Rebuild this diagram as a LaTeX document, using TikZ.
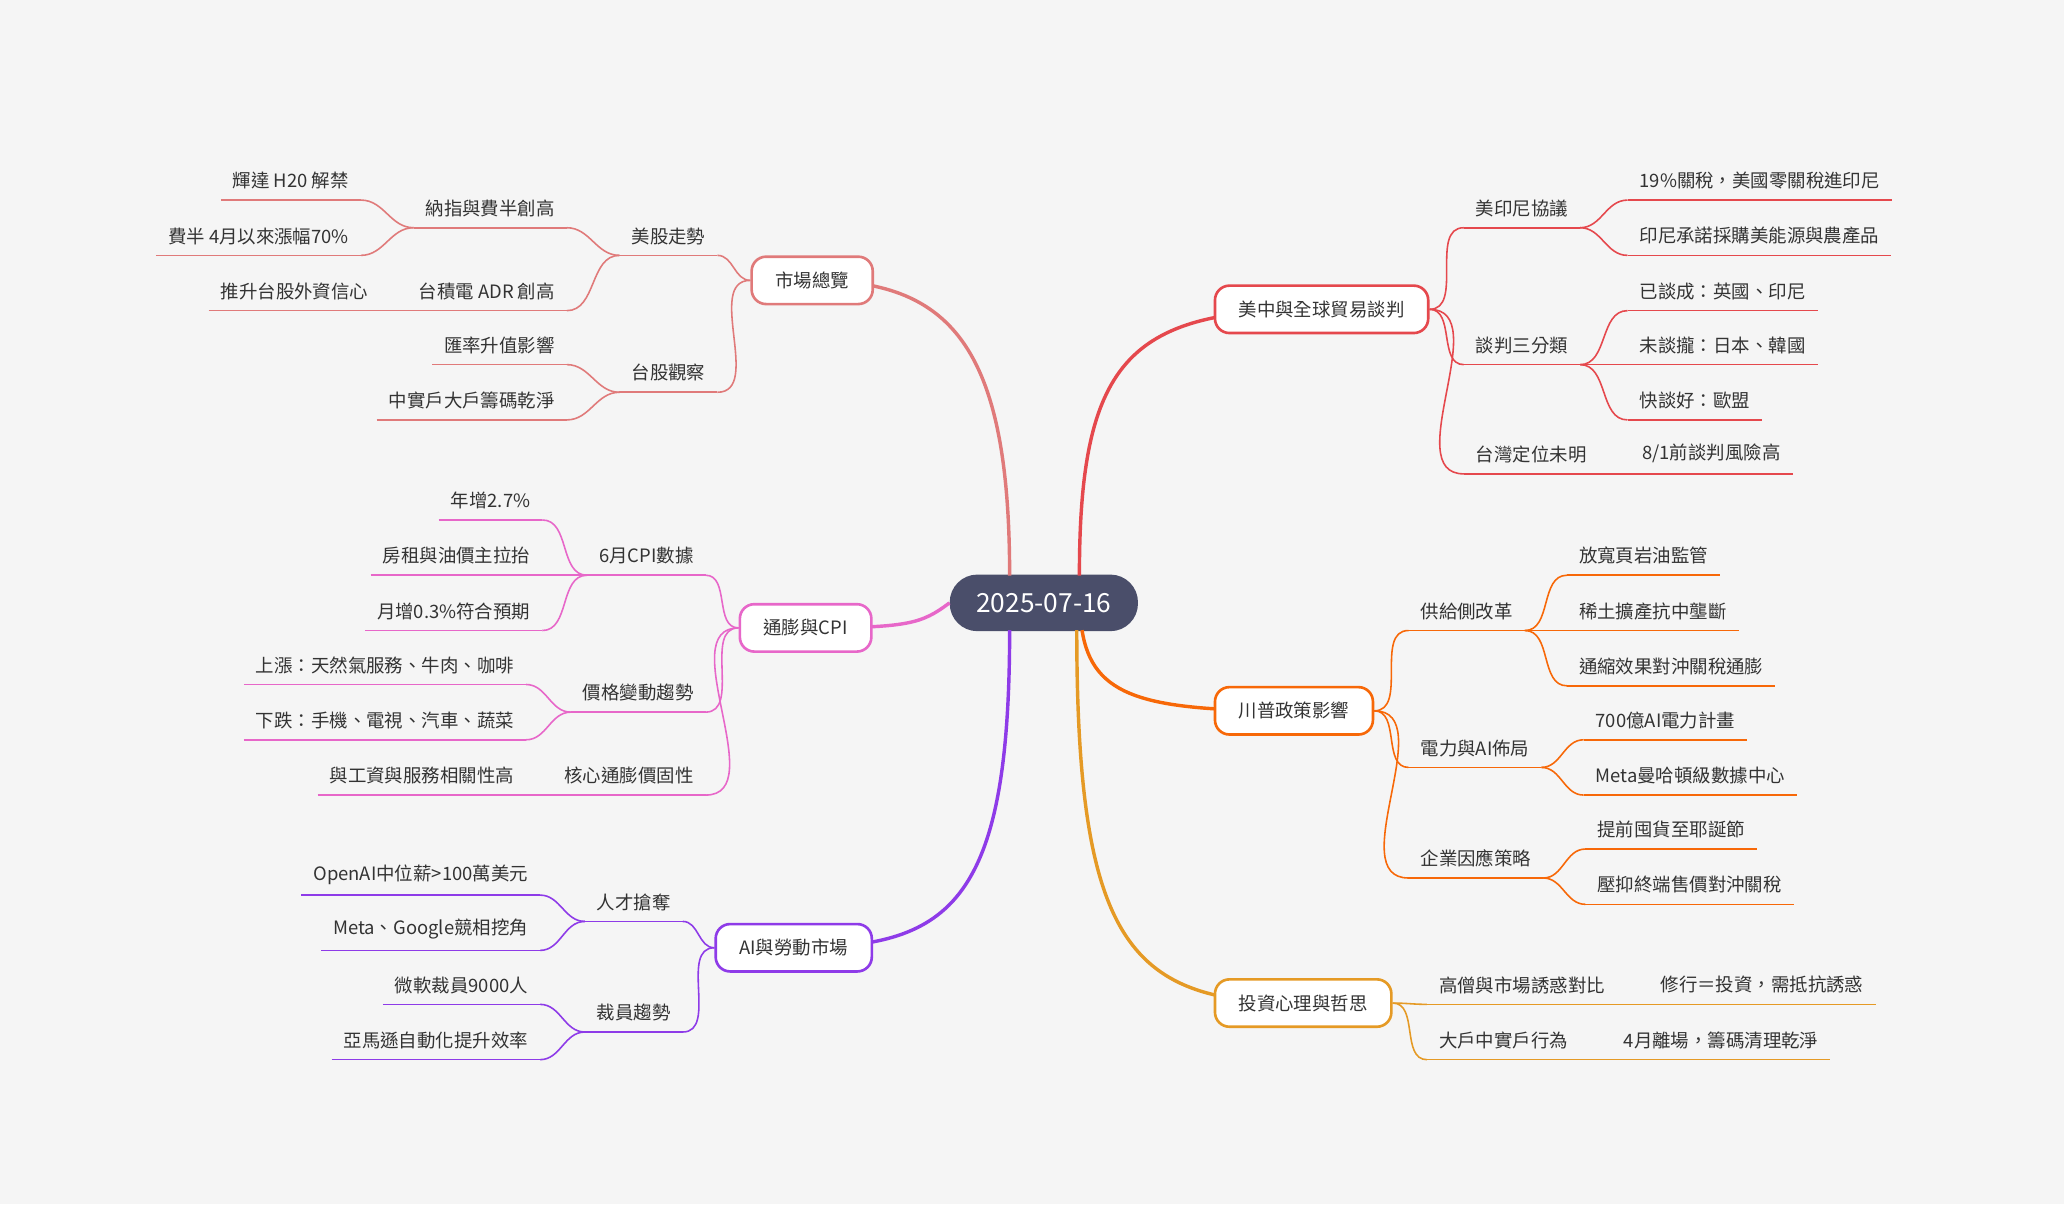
\documentclass[tikz,border=0pt]{standalone}
\usepackage{fontspec}
\setmainfont{Noto Sans CJK TC}
\usetikzlibrary{calc}
\definecolor{bg}{HTML}{F5F5F5}
\definecolor{txc}{HTML}{333333}
\definecolor{cA}{HTML}{E07A7A}
\definecolor{cB}{HTML}{E5484D}
\definecolor{cC}{HTML}{E767C9}
\definecolor{cD}{HTML}{F76808}
\definecolor{cE}{HTML}{8E3BE8}
\definecolor{cF}{HTML}{E59A25}
\definecolor{rootc}{HTML}{4A4E6A}
\tikzset{
 tx/.style={text=txc,font=\fontsize{14}{16}\selectfont,inner xsep=9pt,inner ysep=8pt},
 ul/.style={line width=1.2pt},
 bx/.style={line width=2pt,fill=white,rounded corners=11pt,text=txc,font=\fontsize{14}{16}\selectfont,minimum height=36pt,inner xsep=18pt},
 br/.style={line width=2.6pt},
}
\newcommand\lc[5]{\node[tx,anchor=south east] (#1) at ($(#2)+(#3,#4)$) {#5};
 \draw[ul] (#1.south west)--(#1.south east);
 \draw[ul] (#2) to[out=180,in=0] (#1.south east);}
\newcommand\rc[5]{\node[tx,anchor=south west] (#1) at ($(#2)+(#3,#4)$) {#5};
 \draw[ul] (#1.south west)--(#1.south east);
 \draw[ul] (#2) to[out=0,in=180] (#1.south west);}
\begin{document}
\begin{tikzpicture}[x=1pt,y=-1pt]
\fill[bg] (0,0) rectangle (1568,915);
\useasboundingbox (0,0) rectangle (1568,915);
\node[fill=rootc,text=white,rounded corners=21pt,minimum width=143pt,minimum height=43pt,font=\fontsize{20}{22}\selectfont] (root) at (793,458) {2025-07-16};
% root branches
\draw[br,cA] ($(root.north)+(-26,1)$) .. controls (767,260) and (720,213) .. (617,213);
\draw[br,cB] ($(root.north)+(27,1)$) .. controls (820,270) and (860,235) .. (1004,235);
\draw[br,cC] (root.west) .. controls (700,474) and (690,477) .. (612,477);
\draw[br,cD] ($(root.south)+(29,-1)$) .. controls (830,530) and (870,540) .. (983,540);
\draw[br,cE] ($(root.south)+(-26,-1)$) .. controls (767,690) and (720,720) .. (603,720);
\draw[br,cF] ($(root.south)+(25,-1)$) .. controls (818,720) and (860,762) .. (990,762);
% boxes
\node[bx,draw=cA] (A) at (617,213) {市場總覽};
\node[bx,draw=cB] (B) at (1004,235) {美中與全球貿易談判};
\node[bx,draw=cC] (C) at (612,477) {通膨與CPI};
\node[bx,draw=cD] (D) at (983,540) {川普政策影響};
\node[bx,draw=cE] (E) at (603,720) {AI與勞動市場};
\node[bx,draw=cF] (F) at (990,762) {投資心理與哲思};
% A
\begin{scope}[color=cA]
\lc{A1}{A.west}{-25}{-19}{美股走勢}
\lc{A2}{A.west}{-25}{85}{台股觀察}
\lc{A11}{A1.south west}{-40}{-21}{納指與費半創高}
\lc{A12}{A1.south west}{-40}{42}{台積電 ADR 創高}
\lc{A111}{A11.south west}{-40}{-21}{輝達 H20 解禁}
\lc{A112}{A11.south west}{-40}{21}{費半 4月以來漲幅70\%}
\lc{A121}{A12.south west}{-20}{0}{推升台股外資信心}
\lc{A21}{A2.south west}{-40}{-21}{匯率升值影響}
\lc{A22}{A2.south west}{-40}{21}{中實戶大戶籌碼乾淨}
\end{scope}
% C
\begin{scope}[color=cC]
\lc{C1}{C.west}{-25}{-40}{6月CPI數據}
\lc{C2}{C.west}{-25}{64}{價格變動趨勢}
\lc{C3}{C.west}{-25}{127}{核心通膨價固性}
\lc{C11}{C1.south west}{-34}{-42}{年增2.7\%}
\lc{C12}{C1.south west}{-34}{0}{房租與油價主拉抬}
\lc{C13}{C1.south west}{-34}{42}{月增0.3\%符合預期}
\lc{C21}{C2.south west}{-34}{-21}{上漲：天然氣服務、牛肉、咖啡}
\lc{C22}{C2.south west}{-34}{21}{下跌：手機、電視、汽車、蔬菜}
\lc{C31}{C3.south west}{-20}{0}{與工資與服務相關性高}
\end{scope}
% E
\begin{scope}[color=cE]
\lc{E1}{E.west}{-24}{-20}{人才搶奪}
\lc{E2}{E.west}{-24}{64}{裁員趨勢}
\lc{E11}{E1.south west}{-34}{-20}{OpenAI中位薪>100萬美元}
\lc{E12}{E1.south west}{-34}{22}{Meta、Google競相挖角}
\lc{E21}{E2.south west}{-34}{-21}{微軟裁員9000人}
\lc{E22}{E2.south west}{-34}{21}{亞馬遜自動化提升效率}
\end{scope}
% B
\begin{scope}[color=cB]
\rc{B1}{B.east}{26}{-62}{美印尼協議}
\rc{B2}{B.east}{26}{42}{談判三分類}
\rc{B3}{B.east}{26}{125}{台灣定位未明}
\rc{B11}{B1.south east}{36}{-21}{19\%關稅，美國零關稅進印尼}
\rc{B12}{B1.south east}{36}{21}{印尼承諾採購美能源與農產品}
\rc{B21}{B2.south east}{36}{-41}{已談成：英國、印尼}
\rc{B22}{B2.south east}{36}{0}{未談攏：日本、韓國}
\rc{B23}{B2.south east}{36}{42}{快談好：歐盟}
\rc{B31}{B3.south east}{24}{0}{8/1前談判風險高}
\end{scope}
% D
\begin{scope}[color=cD]
\rc{D1}{D.east}{26}{-61}{供給側改革}
\rc{D2}{D.east}{26}{43}{電力與AI佈局}
\rc{D3}{D.east}{26}{127}{企業因應策略}
\rc{D11}{D1.south east}{32}{-42}{放寬頁岩油監管}
\rc{D12}{D1.south east}{32}{0}{稀土擴產抗中壟斷}
\rc{D13}{D1.south east}{32}{42}{通縮效果對沖關稅通膨}
\rc{D21}{D2.south east}{32}{-21}{700億AI電力計畫}
\rc{D22}{D2.south east}{32}{21}{Meta曼哈頓級數據中心}
\rc{D31}{D3.south east}{32}{-22}{提前囤貨至耶誕節}
\rc{D32}{D3.south east}{32}{20}{壓抑終端售價對沖關稅}
\end{scope}
% F
\begin{scope}[color=cF]
\rc{F1}{F.east}{26}{1}{高僧與市場誘惑對比}
\rc{F2}{F.east}{26}{43}{大戶中實戶行為}
\rc{F11}{F1.south east}{24}{0}{修行＝投資，需抵抗誘惑}
\rc{F21}{F2.south east}{24}{0}{4月離場，籌碼清理乾淨}
\end{scope}
\end{tikzpicture}
\end{document}
